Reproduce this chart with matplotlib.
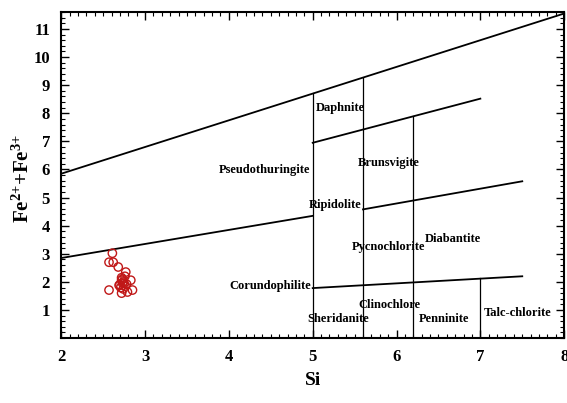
import matplotlib
matplotlib.use("Agg")
import matplotlib.pyplot as plt
from matplotlib.ticker import MultipleLocator

plt.rcParams['font.family'] = ['Liberation Serif', 'DejaVu Serif']
plt.rcParams['mathtext.fontset'] = 'custom'
plt.rcParams['mathtext.rm'] = 'Liberation Serif:bold'
plt.rcParams['mathtext.bf'] = 'Liberation Serif:bold'

# sample data
si = [2.61, 2.57, 2.62, 2.68, 2.77, 2.72, 2.83, 2.73, 2.57, 2.85, 2.72, 2.79,
      2.70, 2.74, 2.76, 2.71, 2.75, 2.73, 2.78, 2.69, 2.74, 2.72, 2.76]
fe = [3.02, 2.70, 2.70, 2.53, 2.35, 2.06, 2.06, 1.96, 1.71, 1.71, 1.60, 1.64,
      1.90, 2.00, 1.85, 1.80, 1.95, 2.10, 1.92, 1.88, 1.75, 2.15, 2.20]

# classification boundary lines (x-list, y-list)
boundaries = [
    ([2.0, 8.0], [5.85, 11.55]),
    ([2.0, 5.0], [2.85, 4.35]),
    ([5.0, 7.0], [6.95, 8.52]),
    ([5.6, 7.5], [4.58, 5.58]),
    ([5.0, 7.5], [1.78, 2.2]),
]
verticals = [
    ([5.0, 5.0], [0.0, 8.72]),
    ([5.6, 5.6], [0.0, 9.27]),
    ([6.2, 6.2], [0.0, 7.9]),
    ([7.0, 7.0], [0.0, 2.13]),
]

field_names = ["Daphnite", "Brunsvigite", "Pseudothuringite", "Ripidolite",
               "Pycnochlorite", "Diabantite", "Corundophilite", "Clinochlore",
               "Sheridanite", "Penninite", "Talc-chlorite"]
field_x = [5.33, 5.91, 4.42, 5.27, 5.9, 6.67, 4.49, 5.92, 5.31, 6.57, 7.45]
field_y = [8.18, 6.23, 5.98, 4.73, 3.24, 3.52, 1.85, 1.17, 0.68, 0.68, 0.89]

fig = plt.figure(figsize=(5.67, 4.03), dpi=100)
ax = fig.add_axes([0.108, 0.161, 0.887, 0.809])

for xs, ys in boundaries:
    ax.plot(xs, ys, color='black', lw=1.3)
for xs, ys in verticals:
    ax.plot(xs, ys, color='black', lw=0.9)

for name, x, y in zip(field_names, field_x, field_y):
    ax.text(x, y, name, ha='center', va='center', fontsize=9, fontweight='bold')

ax.scatter(si, fe, s=36, facecolors='none', edgecolors='#c01818', linewidths=1.0, zorder=3)

ax.set_xlim(2, 8)
ax.set_ylim(0, 11.6)
ax.xaxis.set_major_locator(MultipleLocator(1))
ax.xaxis.set_minor_locator(MultipleLocator(0.1))
ax.yaxis.set_major_locator(MultipleLocator(1))
ax.yaxis.set_minor_locator(MultipleLocator(0.2))
ax.set_yticks(range(1, 12))
ax.tick_params(which='both', direction='in', top=True, right=True)
ax.tick_params(which='major', length=6, width=1.0, labelsize=12, pad=8)
ax.tick_params(which='minor', length=3, width=0.8)
for lab in ax.get_xticklabels() + ax.get_yticklabels():
    lab.set_fontweight('bold')
for sp in ax.spines.values():
    sp.set_linewidth(1.5)

ax.set_xlabel('Si', fontsize=14, fontweight='bold', labelpad=5)
ax.set_ylabel(r'$\mathbf{Fe^{2{+}}{+}Fe^{3{+}}}$', fontsize=15)
ax.yaxis.set_label_coords(-0.055, 0.49)

fig.savefig('out.png', dpi=100)
